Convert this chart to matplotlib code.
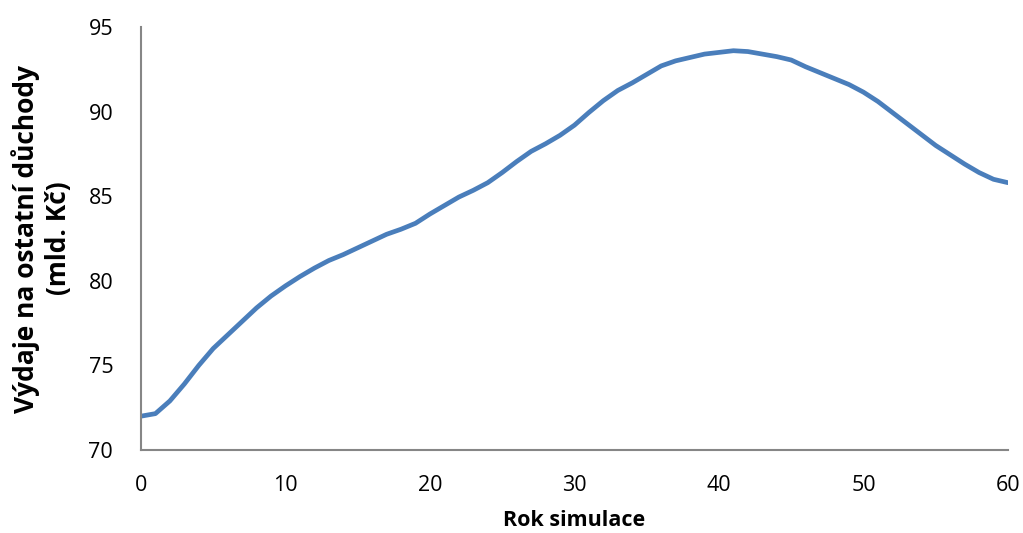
import matplotlib
matplotlib.use("Agg")
import matplotlib.pyplot as plt

years = list(range(0, 61))
vydaje = [72.0, 72.15, 72.9, 73.9, 75.0, 76.0, 76.8, 77.6, 78.4, 79.1,
          79.7, 80.25, 80.75, 81.2, 81.55, 81.95, 82.35, 82.75, 83.05, 83.4,
          83.95, 84.45, 84.95, 85.35, 85.8, 86.4, 87.05, 87.65, 88.1, 88.6,
          89.2, 89.95, 90.65, 91.25, 91.7, 92.2, 92.7, 93.0, 93.2, 93.4,
          93.5, 93.6, 93.55, 93.4, 93.25, 93.05, 92.65, 92.3, 91.95, 91.6,
          91.15, 90.6, 89.95, 89.3, 88.65, 88.0, 87.45, 86.9, 86.4, 86.0,
          85.8]

x_ticks = [0, 10, 20, 30, 40, 50, 60]
y_ticks = [70, 75, 80, 85, 90, 95]

plt.rcParams['font.family'] = ['Open Sans', 'DejaVu Sans']

fig = plt.figure(figsize=(10.23, 5.33), dpi=100)
ax = fig.add_axes([0.1378, 0.1557, 0.8475, 0.7936])

ax.plot(years, vydaje, color="#4a7ebb", linewidth=3.4, solid_capstyle="round",
        solid_joinstyle="round")

ax.set_xlim(0, 60)
ax.set_ylim(70, 95)
ax.set_xticks(x_ticks)
ax.set_yticks(y_ticks)
ax.tick_params(axis="both", length=0, labelsize=15.5)
ax.tick_params(axis="x", pad=18)
ax.tick_params(axis="y", pad=20)

for side in ["top", "right"]:
    ax.spines[side].set_visible(False)
for side in ["left", "bottom"]:
    ax.spines[side].set_color("#868686")
    ax.spines[side].set_linewidth(1.5)

ax.set_xlabel("Rok simulace", fontsize=15.5, fontweight="bold", labelpad=10)
ax.set_ylabel("Výdaje na ostatní důchody\n(mld. Kč)", fontsize=19,
              fontweight="bold", labelpad=12, linespacing=1.25)

fig.savefig("out.png", dpi=100)
